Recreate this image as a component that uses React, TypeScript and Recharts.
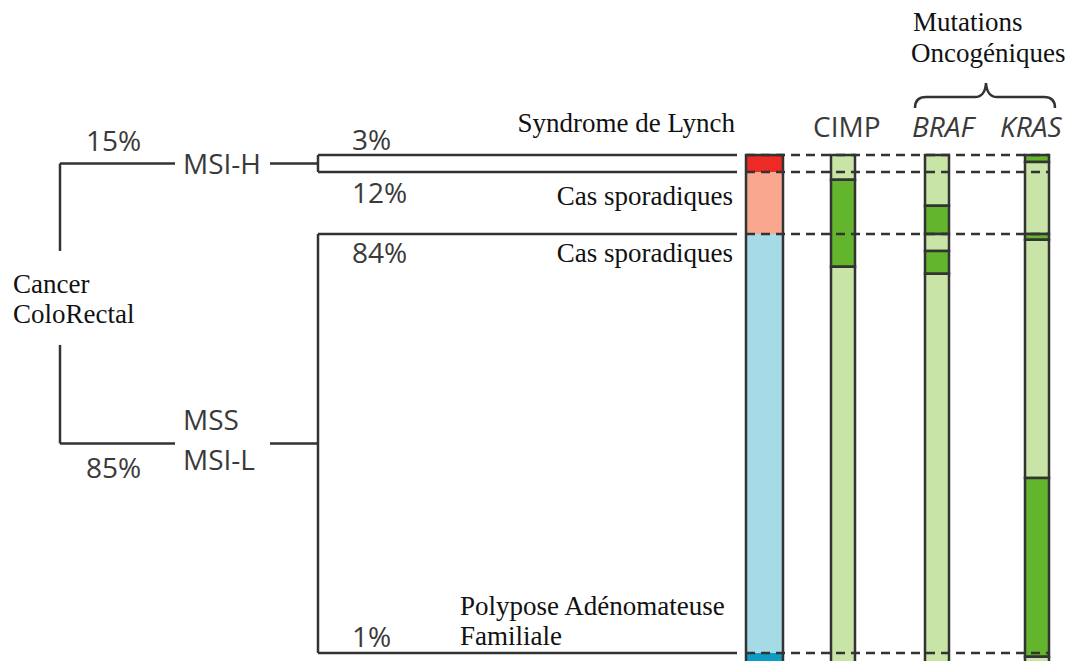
import React from 'react';
import { ComposedChart, XAxis, YAxis, ReferenceArea, ReferenceLine } from 'recharts';

/* ── Data (heights, in % of the column) ─────────────────────────── */
const MAIN_GROUPS = ['Syndrome de Lynch', 'Cas sporadiques', 'Cas sporadiques', 'Polypose Adénomateuse Familiale'];
const MAIN_SHARES = [3.35, 12.2, 82.48, 1.97];
const MAIN_PCT_LABELS = ['3%', '12%', '84%', '1%'];
const BRANCH_LABELS = ['15%', '85%'];
const MARKERS = ['CIMP', 'BRAF', 'KRAS'];
// segment lengths top→bottom, and whether the segment is mutated (dark) or not
const CIMP_SEGMENTS = [4.9, 17.1, 78.0];
const CIMP_STATES = [0, 1, 0];
const BRAF_SEGMENTS = [10.0, 5.55, 3.35, 4.5, 76.6];
const BRAF_STATES = [0, 1, 0, 1, 0];
const KRAS_SEGMENTS = [1.4, 14.15, 1.15, 46.9, 35.2, 1.2];
const KRAS_STATES = [1, 0, 1, 0, 1, 0];

/* ── Look ──────────────────────────────────────────────────────── */
const W = 1073;
const H = 665;
const INK = '#333333';
const MAIN_FILLS = ['#EE2A24', '#F9A88F', '#A4DBE6', '#0E9BC4'];
const GREEN = { light: '#C8E5A7', dark: '#63B52D' };
const SANS = "'Open Sans', sans-serif";
const SERIF = "'Liberation Serif', 'Times New Roman', serif";

// column x spans (layout, px units of the x axis)
const MAIN_X = [746, 783];
const MARKER_X = [[831, 855], [925, 949], [1025, 1049]];
const LINE_END = 737;
const TREE_X = 318;

const cumulate = (arr: number[]) => {
  const out: [number, number][] = [];
  let acc = 0;
  arr.forEach((v) => {
    out.push([acc, acc + v]);
    acc += v;
  });
  return out;
};

const mainSpans = cumulate(MAIN_SHARES);
const markerSpans = [
  { segs: cumulate(CIMP_SEGMENTS), states: CIMP_STATES },
  { segs: cumulate(BRAF_SEGMENTS), states: BRAF_STATES },
  { segs: cumulate(KRAS_SEGMENTS), states: KRAS_STATES },
];

const boundaries = [0, mainSpans[0][1], mainSpans[1][1], mainSpans[2][1]];
const msiMid = (boundaries[0] + boundaries[1]) / 2;
const mssMid = (boundaries[2] + boundaries[3]) / 2;

const sansText: React.SVGProps<SVGTextElement> = { fontFamily: SANS, fontSize: 28, fill: '#3a3a3a' };
const serifText: React.SVGProps<SVGTextElement> = { fontFamily: SERIF, fontSize: 27, fill: '#111' };

const seg = (x1: number, y1: number, x2: number, y2: number, key: string, dash?: string) => (
  <ReferenceLine
    key={key}
    segment={[{ x: x1, y: y1 }, { x: x2, y: y2 }]}
    stroke={INK}
    strokeWidth={2.5}
    strokeDasharray={dash}
    ifOverflow="visible"
  />
);

export default function App() {
  return (
    <div style={{ position: 'fixed', left: 0, top: 0, width: W, height: 661, overflow: 'hidden', background: '#fff' }}>
      <ComposedChart width={W} height={H} data={[]} margin={{ top: 0, right: 0, bottom: 0, left: 0 }}>
        <XAxis type="number" dataKey="x" domain={[0, W]} allowDataOverflow hide />
        <YAxis type="number" domain={[-30.5, 100.4]} allowDataOverflow reversed hide />

        {/* tree */}
        {seg(60, msiMid, 60, 18.9, 't1')}
        {seg(60, msiMid, 175, msiMid, 't2')}
        {seg(270, msiMid, TREE_X, msiMid, 't3')}
        {seg(TREE_X, boundaries[0], TREE_X, boundaries[1], 't4')}
        {seg(TREE_X, boundaries[0], LINE_END, boundaries[0], 't5')}
        {seg(TREE_X, boundaries[1], LINE_END, boundaries[1], 't6')}
        {seg(60, 37.4, 60, mssMid, 't7')}
        {seg(60, mssMid, 175, mssMid, 't8')}
        {seg(270, mssMid, TREE_X, mssMid, 't9')}
        {seg(TREE_X, boundaries[2], TREE_X, boundaries[3], 't10')}
        {seg(TREE_X, boundaries[2], LINE_END, boundaries[2], 't11')}
        {seg(TREE_X, boundaries[3], LINE_END, boundaries[3], 't12')}

        {/* main distribution column */}
        {mainSpans.map(([a, b], i) => (
          <ReferenceArea key={`m${i}`} x1={MAIN_X[0]} x2={MAIN_X[1]} y1={a} y2={b}
            fill={MAIN_FILLS[i]} fillOpacity={1} stroke="none" ifOverflow="visible" />
        ))}
        <ReferenceArea x1={MAIN_X[0]} x2={MAIN_X[1]} y1={0} y2={100} fill="none"
          stroke={INK} strokeWidth={2.5} ifOverflow="visible" />

        {/* marker columns */}
        {markerSpans.map((m, ci) =>
          m.segs.map(([a, b], i) => (
            <ReferenceArea key={`c${ci}-${i}`} x1={MARKER_X[ci][0]} x2={MARKER_X[ci][1]} y1={a} y2={b}
              fill={m.states[i] ? GREEN.dark : GREEN.light} fillOpacity={1}
              stroke={INK} strokeWidth={2.5} ifOverflow="visible" />
          ))
        )}

        {/* dashed guides */}
        {boundaries.map((b, i) => seg(MAIN_X[0], b, MARKER_X[2][1], b, `d${i}`, '9 6'))}

        {/* brace */}
        <path d="M915,108 Q915,97 926,97 L975,97 Q985,97 986,83 Q987,97 997,97 L1044,97 Q1055,97 1055,108"
          fill="none" stroke={INK} strokeWidth={2.5} />

        {/* labels */}
        <text x={86} y={151} {...sansText}>{BRANCH_LABELS[0]}</text>
        <text x={86} y={478} {...sansText}>{BRANCH_LABELS[1]}</text>
        <text x={183} y={174} {...sansText}>MSI-H</text>
        <text x={183} y={430} {...sansText}>MSS</text>
        <text x={183} y={470} {...sansText}>MSI-L</text>
        <text x={13} y={293} {...serifText}>Cancer</text>
        <text x={13} y={323} {...serifText}>ColoRectal</text>

        <text x={352} y={150} {...sansText}>{MAIN_PCT_LABELS[0]}</text>
        <text x={352} y={203} {...sansText}>{MAIN_PCT_LABELS[1]}</text>
        <text x={352} y={263} {...sansText}>{MAIN_PCT_LABELS[2]}</text>
        <text x={352} y={647} {...sansText}>{MAIN_PCT_LABELS[3]}</text>

        <text x={735} y={132} textAnchor="end" {...serifText}>{MAIN_GROUPS[0]}</text>
        <text x={733} y={205} textAnchor="end" {...serifText}>{MAIN_GROUPS[1]}</text>
        <text x={733} y={262} textAnchor="end" {...serifText}>{MAIN_GROUPS[2]}</text>
        <text x={460} y={615} {...serifText}>Polypose Adénomateuse</text>
        <text x={460} y={645} {...serifText}>Familiale</text>

        <text x={813} y={137} {...sansText}>{MARKERS[0]}</text>
        <text x={912} y={137} fontStyle="italic" {...sansText}>{MARKERS[1]}</text>
        <text x={1000} y={137} fontStyle="italic" {...sansText}>{MARKERS[2]}</text>
        <text x={913} y={31} {...serifText}>Mutations</text>
        <text x={911} y={62} {...serifText}>Oncogéniques</text>
      </ComposedChart>
    </div>
  );
}
